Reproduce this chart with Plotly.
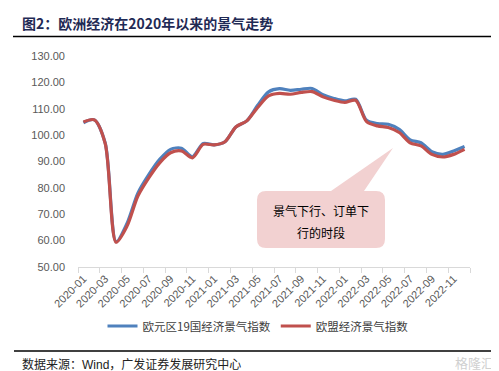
import plotly.graph_objects as go

months = [f"{y}-{m:02d}" for y in (2020, 2021, 2022) for m in range(1, 13)]

ea19 = [104.7, 105.8, 97.0, 59.6, 66.5, 78.0, 85.0, 90.8, 94.6, 95.0, 91.8, 96.8,
        96.3, 97.5, 103.1, 105.4, 111.3, 116.4, 117.6, 117.0, 117.4, 117.7, 115.3, 113.9,
        113.0, 113.6, 105.6, 104.4, 104.1, 102.2, 98.2, 97.1, 93.7, 92.7, 94.0, 95.7]
eu = [105.0, 105.8, 96.8, 59.4, 65.5, 76.9, 83.8, 89.5, 93.3, 94.0, 91.4, 96.5,
      96.3, 97.5, 103.1, 105.4, 110.5, 114.9, 115.8, 115.5, 116.2, 116.5, 114.5, 113.2,
      112.4, 113.2, 105.1, 103.5, 102.9, 101.0, 97.1, 95.9, 92.7, 91.7, 92.7, 94.6]

series_names = ["欧元区19国经济景气指数", "欧盟经济景气指数"]
series_colors = ["#4F81BD", "#C0504D"]

title_text = "图2：欧洲经济在2020年以来的景气走势"
source_text = "数据来源：Wind，广发证券发展研究中心"
callout_lines = ["景气下行、订单下", "行的时段"]

W, H = 499, 371
L, R, T, B = 70, 462, 48, 259  # plot area in px


def px(x):
    return (x - L) / (R - L)


def py(y):
    return (B - y) / (B - T)


xs = list(range(len(months)))

fig = go.Figure()
for vals, name, col in zip([ea19, eu], series_names, series_colors):
    fig.add_trace(go.Scatter(x=xs, y=vals, name=name, mode="lines",
                             line=dict(color=col, width=3.2, shape="spline", smoothing=0.8)))

# callout path (rounded rect with pointer)
x1, x2, y1, y2, r = 249, 377, 183, 240, 9
bx1, bx2, tipx, tipy = 323, 356, 385, 140
path = (f"M {px(x1+r)},{py(y1)} L {px(bx1)},{py(y1)} L {px(tipx)},{py(tipy)} "
        f"L {px(bx2)},{py(y1)} L {px(x2-r)},{py(y1)} Q {px(x2)},{py(y1)} {px(x2)},{py(y1+r)} "
        f"L {px(x2)},{py(y2-r)} Q {px(x2)},{py(y2)} {px(x2-r)},{py(y2)} "
        f"L {px(x1+r)},{py(y2)} Q {px(x1)},{py(y2)} {px(x1)},{py(y2-r)} "
        f"L {px(x1)},{py(y1+r)} Q {px(x1)},{py(y1)} {px(x1+r)},{py(y1)} Z")

shapes = [
    dict(type="path", xref="paper", yref="paper", path=path,
         fillcolor="#F2D1D1", line=dict(width=0), layer="below"),
    dict(type="line", xref="paper", yref="paper", x0=px(5), x1=px(489), y0=py(28.5), y1=py(28.5),
         line=dict(color="#000000", width=1.6)),
    dict(type="line", xref="paper", yref="paper", x0=px(6), x1=px(489), y0=py(343), y1=py(343),
         line=dict(color="#000000", width=1.6)),
]

annotations = [
    dict(text=f"<b>{title_text}</b>", xref="paper", yref="paper", x=px(12), y=py(15),
         xanchor="left", yanchor="middle", showarrow=False,
         font=dict(size=14, color="#1F2A55", family="Noto Sans CJK SC, Liberation Sans")),
    dict(text=source_text, xref="paper", yref="paper", x=px(12), y=py(356),
         xanchor="left", yanchor="middle", showarrow=False,
         font=dict(size=12, color="#222222", family="Liberation Sans, Noto Sans CJK SC")),
    dict(text=callout_lines[0], xref="paper", yref="paper", x=px(313), y=py(203),
         xanchor="center", yanchor="middle", showarrow=False,
         font=dict(size=12, color="#000000", family="Noto Sans CJK SC")),
    dict(text=callout_lines[1], xref="paper", yref="paper", x=px(313), y=py(224),
         xanchor="center", yanchor="middle", showarrow=False,
         font=dict(size=12, color="#000000", family="Noto Sans CJK SC")),
    dict(text="格隆汇", xref="paper", yref="paper", x=px(488), y=py(354),
         xanchor="right", yanchor="middle", showarrow=False,
         font=dict(size=13, color="#D0D0D0", family="Noto Sans CJK SC")),
]

fig.update_layout(
    width=W, height=H,
    margin=dict(l=L, r=W - R, t=T, b=H - B, pad=0),
    paper_bgcolor="white", plot_bgcolor="white",
    font=dict(family="Liberation Sans, Noto Sans CJK SC", size=11, color="#595959"),
    showlegend=True,
    legend=dict(orientation="h", x=px(250), y=py(318), xanchor="center", yanchor="middle",
                font=dict(size=11.5, color="#404040", family="Noto Sans CJK SC"),
                itemwidth=30, tracegroupgap=0, bgcolor="rgba(0,0,0,0)"),
    shapes=shapes,
    annotations=annotations,
)

fig.update_xaxes(
    range=[-0.5, len(months) - 0.5],
    tickmode="array", tickvals=xs[::2], ticktext=months[::2],
    tickangle=-45, ticks="", showgrid=False, zeroline=False,
    showline=True, linecolor="#D9D9D9", linewidth=1,
    tickfont=dict(size=11, color="#595959"),
    minor=dict(tick0=-0.5, dtick=2, ticks="outside", ticklen=5, tickcolor="#D9D9D9", showgrid=False),
)
fig.update_yaxes(
    range=[50, 130], dtick=10, tickformat=".2f",
    showgrid=False, zeroline=False, showline=False, ticks="",
    ticklabelstandoff=12,
    tickfont=dict(size=11, color="#595959"),
)

fig.write_html("out.html")
